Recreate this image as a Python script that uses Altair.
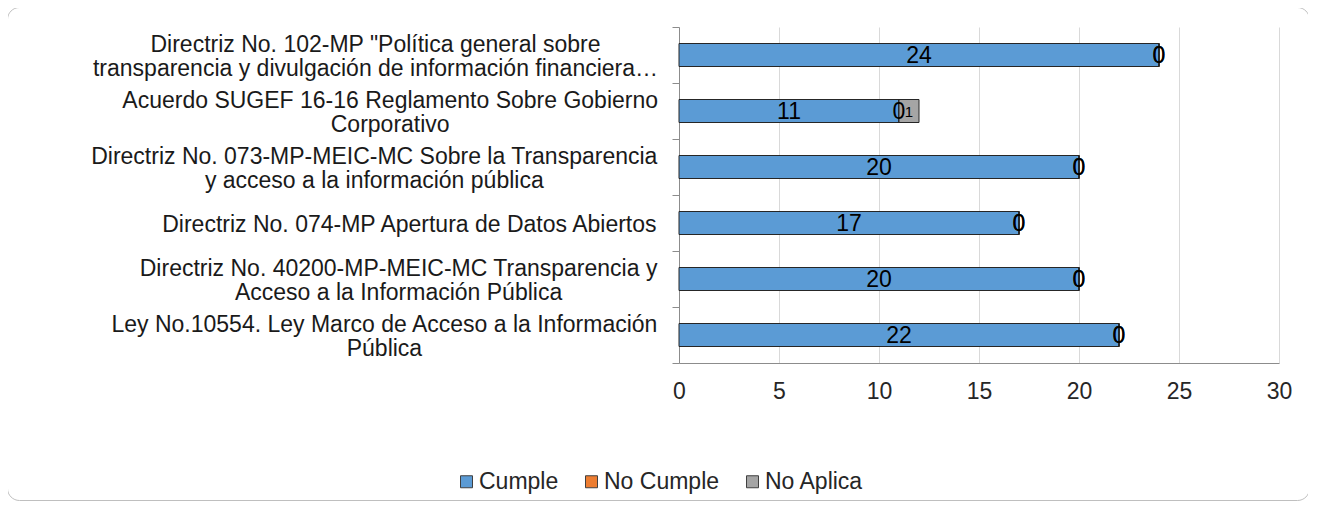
import altair as alt
import pandas as pd

categories = [
    'Directriz No. 102-MP "Política general sobre\ntransparencia y divulgación de información financiera…',
    'Acuerdo SUGEF 16-16 Reglamento Sobre Gobierno\nCorporativo',
    'Directriz No. 073-MP-MEIC-MC Sobre la Transparencia\ny acceso a la información pública',
    'Directriz No. 074-MP Apertura de Datos Abiertos',
    'Directriz No. 40200-MP-MEIC-MC Transparencia y\nAcceso a la Información Pública',
    'Ley No.10554. Ley Marco de Acceso a la Información\nPública',
]
cumple = [24, 11, 20, 17, 20, 22]
no_cumple = [0, 0, 0, 0, 0, 0]
no_aplica = [0, 1, 0, 0, 0, 0]
series = ["Cumple", "No Cumple", "No Aplica"]
colors = ["#5B9BD5", "#ED7D31", "#A5A5A5"]
x_ticks = [0, 5, 10, 15, 20, 25, 30]

FONT = "Liberation Sans"
FS = 23
LH = 24

# Arial / Liberation Sans advance widths (1/1000 em)
ARIAL = {
    " ": 278, "!": 278, '"': 355, "'": 191, "(": 333, ")": 333, ",": 278, "-": 333,
    ".": 278, "/": 278, ":": 278, ";": 278, "…": 1000,
    "A": 667, "B": 667, "C": 722, "D": 722, "E": 667, "F": 611, "G": 778, "H": 722,
    "I": 278, "J": 500, "K": 667, "L": 556, "M": 833, "N": 722, "O": 778, "P": 667,
    "Q": 778, "R": 722, "S": 667, "T": 611, "U": 722, "V": 667, "W": 944, "X": 667,
    "Y": 667, "Z": 611,
    "a": 556, "b": 556, "c": 500, "d": 556, "e": 556, "f": 278, "g": 556, "h": 556,
    "i": 222, "j": 222, "k": 500, "l": 222, "m": 833, "n": 556, "o": 556, "p": 556,
    "q": 556, "r": 333, "s": 500, "t": 278, "u": 556, "v": 500, "w": 722, "x": 500,
    "y": 500, "z": 500, "á": 556, "é": 556, "í": 278, "ó": 556, "ú": 556,
}


def text_width(s, size):
    return sum(ARIAL.get(c, 556) for c in s) / 1000.0 * size


rows = []
for i, cat in enumerate(categories):
    for j, (name, vals) in enumerate(zip(series, [cumple, no_cumple, no_aplica])):
        rows.append({"cat": cat, "serie": name, "orden": j, "valor": vals[i]})
df = pd.DataFrame(rows)

LABEL_RIGHT = -21
lab = pd.DataFrame({
    "cat": categories,
    "cx": [LABEL_RIGHT - max(text_width(l, FS) for l in c.split("\n")) / 2 for c in categories],
    "nl": [len(c.split("\n")) for c in categories],
})

yscale = alt.Scale(domain=categories, paddingInner=0, paddingOuter=0)
xscale = alt.Scale(domain=[0, 30], nice=False)

base = alt.Chart(df).transform_stack(
    stack="valor", groupby=["cat"], sort=[alt.SortField("orden")], as_=["x0", "x1"]
).transform_calculate(xm="(datum.x0 + datum.x1) / 2")

bars = base.mark_bar(stroke="#262626", strokeWidth=1, size=23).encode(
    x=alt.X("x0:Q", scale=xscale,
            axis=alt.Axis(values=x_ticks, title=None, grid=True, gridColor="#D9D9D9",
                          ticks=False, domainColor="#8C8C8C", labelFont=FONT,
                          labelFontSize=FS, labelColor="#262626", labelPadding=17,
                          labelFlush=False)),
    x2="x1:Q",
    y=alt.Y("cat:N", scale=yscale, sort=categories,
            axis=alt.Axis(labels=False, title=None, tickBand="extent", tickSize=7,
                          tickColor="#8C8C8C", domainColor="#8C8C8C", grid=False)),
    color=alt.Color("serie:N", scale=alt.Scale(domain=series, range=colors),
                    legend=alt.Legend(title=None, orient="none", direction="horizontal",
                                      legendX=-224, legendY=443, symbolType="square",
                                      symbolSize=144, symbolStrokeColor="#404040",
                                      symbolStrokeWidth=1, labelFont=FONT,
                                      labelFontSize=FS, labelColor="#262626",
                                      labelOffset=1, columnPadding=21)),
    order=alt.Order("orden:Q"),
)

vals = base.mark_text(font=FONT, color="#000000", baseline="middle", dy=1).encode(
    x=alt.X("xm:Q", scale=xscale, axis=None),
    y=alt.Y("cat:N", scale=yscale, sort=categories),
    text="valor:Q",
    size=alt.condition("datum.serie == 'No Aplica' && datum.valor > 0",
                       alt.value(15), alt.value(FS)),
)


def label_layer(nlines):
    return alt.Chart(lab).transform_filter(f"datum.nl == {nlines}").mark_text(
        font=FONT, fontSize=FS, color="#1A1A1A", align="center", baseline="middle",
        lineBreak="\n", lineHeight=LH, dy=2 - (nlines - 1) * LH / 2,
    ).encode(
        x=alt.X("cx:Q", scale=None, axis=None),
        y=alt.Y("cat:N", scale=yscale, sort=categories),
        text="cat:N",
    )


border = alt.Chart(pd.DataFrame({"a": [0]})).mark_rect(
    fillOpacity=0, stroke="#BFBFBF", strokeWidth=1, cornerRadius=12
).encode(x=alt.value(-671.5), x2=alt.value(630.5), y=alt.value(-19.5), y2=alt.value(473.5))

chart = alt.layer(border, bars, vals, label_layer(1), label_layer(2)).resolve_scale(
    x="independent"
).properties(
    width=600, height=336,
    autosize=alt.AutoSizeParams(type="none"),
    padding={"left": 671, "top": 19, "right": 29, "bottom": 139},
).configure_view(stroke=None)

chart.save("out.html", embed_options={"renderer": "svg", "actions": False})
